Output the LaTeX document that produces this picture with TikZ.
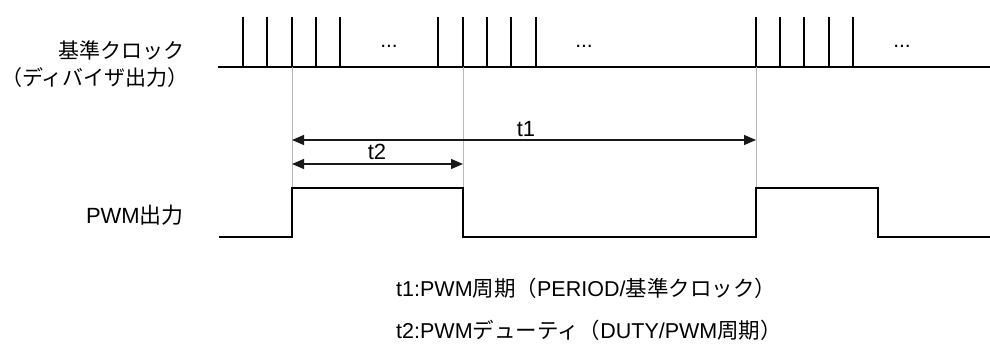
\documentclass[tikz,border=0pt]{standalone}
\usepackage{fontspec}
\setmainfont{Liberation Sans}
\newfontfamily\jp{Noto Sans CJK JP}
\usetikzlibrary{arrows.meta}
\begin{document}
\begin{tikzpicture}[x=1pt,y=-1pt,
  sig/.style={line width=1.4pt,black},
  guide/.style={line width=0.8pt,black!28},
  dim/.style={line width=1.1pt,black!90,{Triangle[length=12pt,width=10pt]}-{Triangle[length=12pt,width=10pt]}},
  lbl/.style={inner sep=0pt,font=\fontsize{21}{24}\selectfont},
  note/.style={inner sep=0pt,anchor=west,font=\fontsize{21.5}{24}\selectfont},
  dots/.style={inner sep=0pt,font=\fontsize{21}{22}\selectfont}]
\useasboundingbox (0,0) rectangle (990,345);
% clock
\draw[sig] (218,67) -- (990,67);
\foreach \x in {243,267,292,316,340,438,463,487,511,536,756,780,804,829,853}
  \draw[sig] (\x,17) -- (\x,67);
\node[dots] (d1) at (389,46) {...};
\node[dots] (d2) at (584,46) {...};
\node[dots] (d3) at (902,46) {...};
% guides
\coordinate (g1t) at (292,67); \coordinate (g1b) at (292,188);
\coordinate (g2t) at (463,67); \coordinate (g2b) at (463,188);
\coordinate (g3t) at (756,67); \coordinate (g3b) at (756,188);
\draw[guide] (g1t) -- (g1b);
\draw[guide] (g2t) -- (g2b);
\draw[guide] (g3t) -- (g3b);
% dimensions
\coordinate (a1) at (292,140); \coordinate (b1) at (756,140);
\coordinate (a2) at (292,164); \coordinate (b2) at (463,164);
\draw[dim] (a1) -- (b1);
\draw[dim] (a2) -- (b2);
\node[lbl,font=\fontsize{22}{24}\selectfont] (t1) at (526,129) {t1};
\node[lbl,font=\fontsize{22}{24}\selectfont] (t2) at (377,152) {t2};
% PWM
\draw[sig] (219,237) -- (292,237) -- (292,188) -- (463,188) -- (463,237) -- (756,237) -- (756,188) -- (878,188) -- (878,237) -- (990,237);
% labels
\node[lbl,anchor=east] (clk) at (185,50) {\jp 基準クロック};
\node[lbl,anchor=east] (div) at (189,78) {\jp （ディバイザ出力）};
\node[lbl,anchor=east,font=\fontsize{22}{24}\selectfont] (pwm) at (184,215) {PWM{\jp 出力}};
\node[note] (n1) at (396,288) {t1:PWM{\jp 周期（}PERIOD/{\jp 基準クロック）}};
\node[note] (n2) at (396,330) {t2:PWM{\jp デューティ（}DUTY/PWM{\jp 周期）}};
\end{tikzpicture}
\end{document}
